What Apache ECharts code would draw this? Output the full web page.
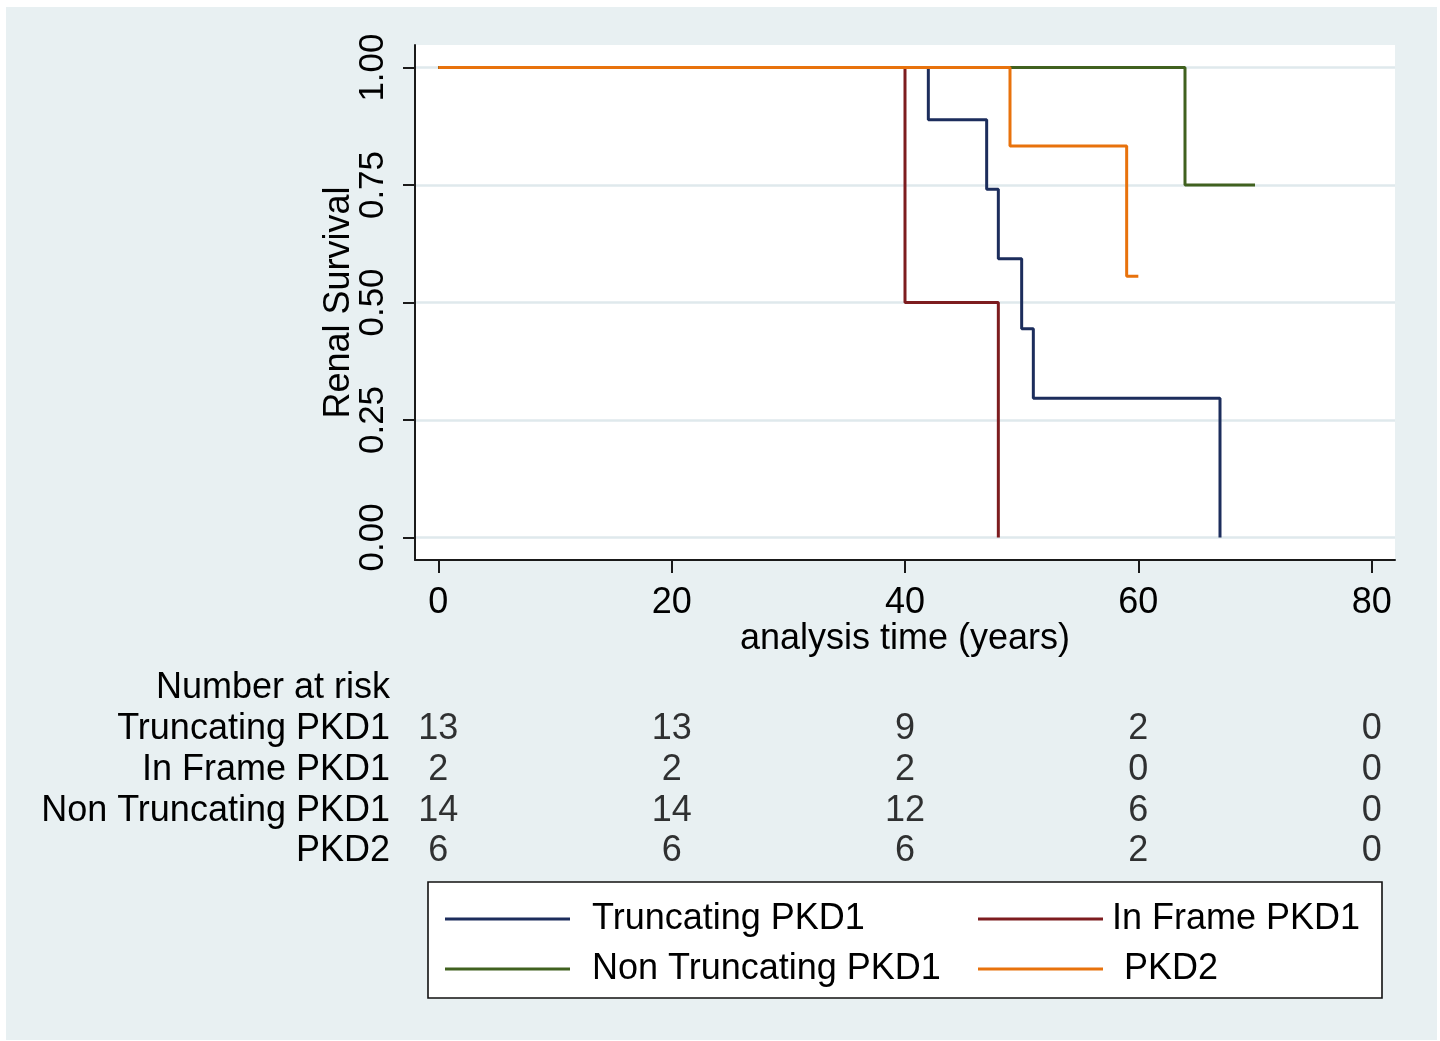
<!DOCTYPE html>
<html>
<head>
<meta charset="utf-8">
<script src="https://cdn.jsdelivr.net/npm/echarts@6/dist/echarts.min.js"></script>
<style>
html,body{margin:0;padding:0;background:#fff;}
#chart{width:1440px;height:1041px;}
</style>
</head>
<body>
<div id="chart"></div>
<script>
// ---- data ----
const groupNames = ['Truncating PKD1', 'In Frame PKD1', 'Non Truncating PKD1', 'PKD2'];
const truncTime = [0, 42, 47, 48, 50, 51, 67];
const truncSurv = [1, 0.889, 0.741, 0.593, 0.444, 0.296, 0];
const inFrameTime = [0, 40, 48];
const inFrameSurv = [1, 0.5, 0];
const nonTruncTime = [0, 64, 70];
const nonTruncSurv = [1, 0.75, 0.75];
const pkd2Time = [0, 49, 59, 60];
const pkd2Surv = [1, 0.833, 0.556, 0.556];

const xTicks = [0, 20, 40, 60, 80];
const yTicks = [0, 0.25, 0.5, 0.75, 1];

const riskHeader = 'Number at risk';
const riskTimes = [0, 20, 40, 60, 80];
const riskTrunc = [13, 13, 9, 2, 0];
const riskInFrame = [2, 2, 2, 0, 0];
const riskNonTrunc = [14, 14, 12, 6, 0];
const riskPKD2 = [6, 6, 6, 2, 0];

// ---- build ----
const FONT = 'Liberation Sans, Arial, sans-serif';
const FS = 36;
const FSY = 35;
const colors = ['#1c2d5c', '#7d1c1f', '#40611f', '#e8720c'];

function pairs(t, s) { return t.map((v, i) => [v, s[i]]); }
const curves = [pairs(truncTime, truncSurv), pairs(inFrameTime, inFrameSurv),
                pairs(nonTruncTime, nonTruncSurv), pairs(pkd2Time, pkd2Surv)];
const riskRows = [riskTrunc, riskInFrame, riskNonTrunc, riskPKD2];

const lineSeries = groupNames.map((n, i) => ({
  name: n, type: 'line', step: 'end', data: curves[i],
  symbol: 'none', showSymbol: false,
  lineStyle: { color: colors[i], width: 3 },
  itemStyle: { color: colors[i] },
  xAxisIndex: 0, yAxisIndex: 0, animation: false
}));

const riskData = [];
riskRows.forEach((row, r) => {
  row.forEach((v, k) => riskData.push([riskTimes[k], groupNames[r], v]));
});

const riskSeries = {
  type: 'scatter', xAxisIndex: 1, yAxisIndex: 1,
  data: riskData, symbolSize: 1, itemStyle: { color: 'rgba(0,0,0,0)' },
  label: { show: true, position: 'inside', formatter: p => String(p.value[2]),
           fontFamily: FONT, fontSize: FS, color: '#000' },
  labelLayout: { hideOverlap: false },
  silent: true, animation: false
};

function legendFmt(pads) {
  return function (name) { return '{' + pads[name] + '|' + name + '}'; };
}
const richBase = { fontFamily: FONT, fontSize: FS, color: '#000', lineHeight: 30 };

const option = {
  backgroundColor: '#fff',
  animation: false,
  graphic: [
    { type: 'rect', z: -10, shape: { x: 6, y: 7, width: 1431, height: 1033 }, style: { fill: '#e8f0f2' } },
    { type: 'rect', z: 0, shape: { x: 428, y: 882, width: 954, height: 116 }, style: { fill: '#fff', stroke: '#111', lineWidth: 1.6 } }
  ],
  grid: [
    { left: 415, right: 45, top: 45, height: 515, show: true, backgroundColor: '#fff', borderWidth: 0 },
    { left: 415, right: 45, top: 668, height: 203.75 }
  ],
  xAxis: [
    {
      type: 'value', gridIndex: 0, min: -2, max: 82,
      name: 'analysis time (years)', nameLocation: 'middle', nameGap: 61, nameMoveOverlap: false,
      nameTextStyle: { fontFamily: FONT, fontSize: FS, color: '#000' },
      axisLine: { show: true, onZero: false, lineStyle: { color: '#1a1a1a', width: 2 } },
      axisTick: { show: true, length: 13, customValues: xTicks, lineStyle: { color: '#1a1a1a', width: 2 } },
      axisLabel: { customValues: xTicks, margin: 25, fontFamily: FONT, fontSize: FS, color: '#000' },
      splitLine: { show: false }
    },
    {
      type: 'value', gridIndex: 1, min: -2, max: 82, show: false
    }
  ],
  yAxis: [
    {
      type: 'value', gridIndex: 0, min: -0.048, max: 1.048,
      name: 'Renal Survival', nameLocation: 'middle', nameGap: 58, nameMoveOverlap: false,
      nameTextStyle: { fontFamily: FONT, fontSize: FS, color: '#000' },
      axisLine: { show: true, onZero: false, lineStyle: { color: '#1a1a1a', width: 2 } },
      axisTick: { show: true, length: 12, customValues: yTicks, lineStyle: { color: '#1a1a1a', width: 2 } },
      axisLabel: { customValues: yTicks, rotate: 90, margin: 24, fontFamily: FONT, fontSize: FSY, color: '#000',
                   formatter: v => Number(v).toFixed(2) },
      splitLine: { show: true, lineStyle: { color: '#dfe9ec', width: 2.5 } }
    },
    {
      type: 'category', gridIndex: 1, inverse: true,
      data: [riskHeader].concat(groupNames),
      axisLine: { show: false }, axisTick: { show: false }, splitLine: { show: false },
      axisLabel: { interval: 0, margin: 25, fontFamily: FONT, fontSize: FS, color: '#000', align: 'right' }
    }
  ],
  legend: [
    {
      data: [groupNames[0], groupNames[2]], orient: 'vertical', left: 445, top: 901,
      icon: 'rect', itemWidth: 125, itemHeight: 3, itemGap: 14, padding: 0,
      formatter: legendFmt({ 'Truncating PKD1': 'a', 'Non Truncating PKD1': 'a' }),
      textStyle: { rich: { a: Object.assign({ padding: [0, 0, 0, 17] }, richBase) } },
      selectedMode: false
    },
    {
      data: [groupNames[1], groupNames[3]], orient: 'vertical', left: 978, top: 901,
      icon: 'rect', itemWidth: 125, itemHeight: 3, itemGap: 14, padding: 0,
      formatter: legendFmt({ 'In Frame PKD1': 'b', 'PKD2': 'c' }),
      textStyle: { rich: { b: Object.assign({ padding: [0, 0, 0, 4] }, richBase),
                           c: Object.assign({ padding: [0, 0, 0, 16] }, richBase) } },
      selectedMode: false
    }
  ],
  series: lineSeries.concat([riskSeries])
};

const chart = echarts.init(document.getElementById('chart'), null, { renderer: 'canvas' });
chart.setOption(option);
</script>
</body>
</html>
